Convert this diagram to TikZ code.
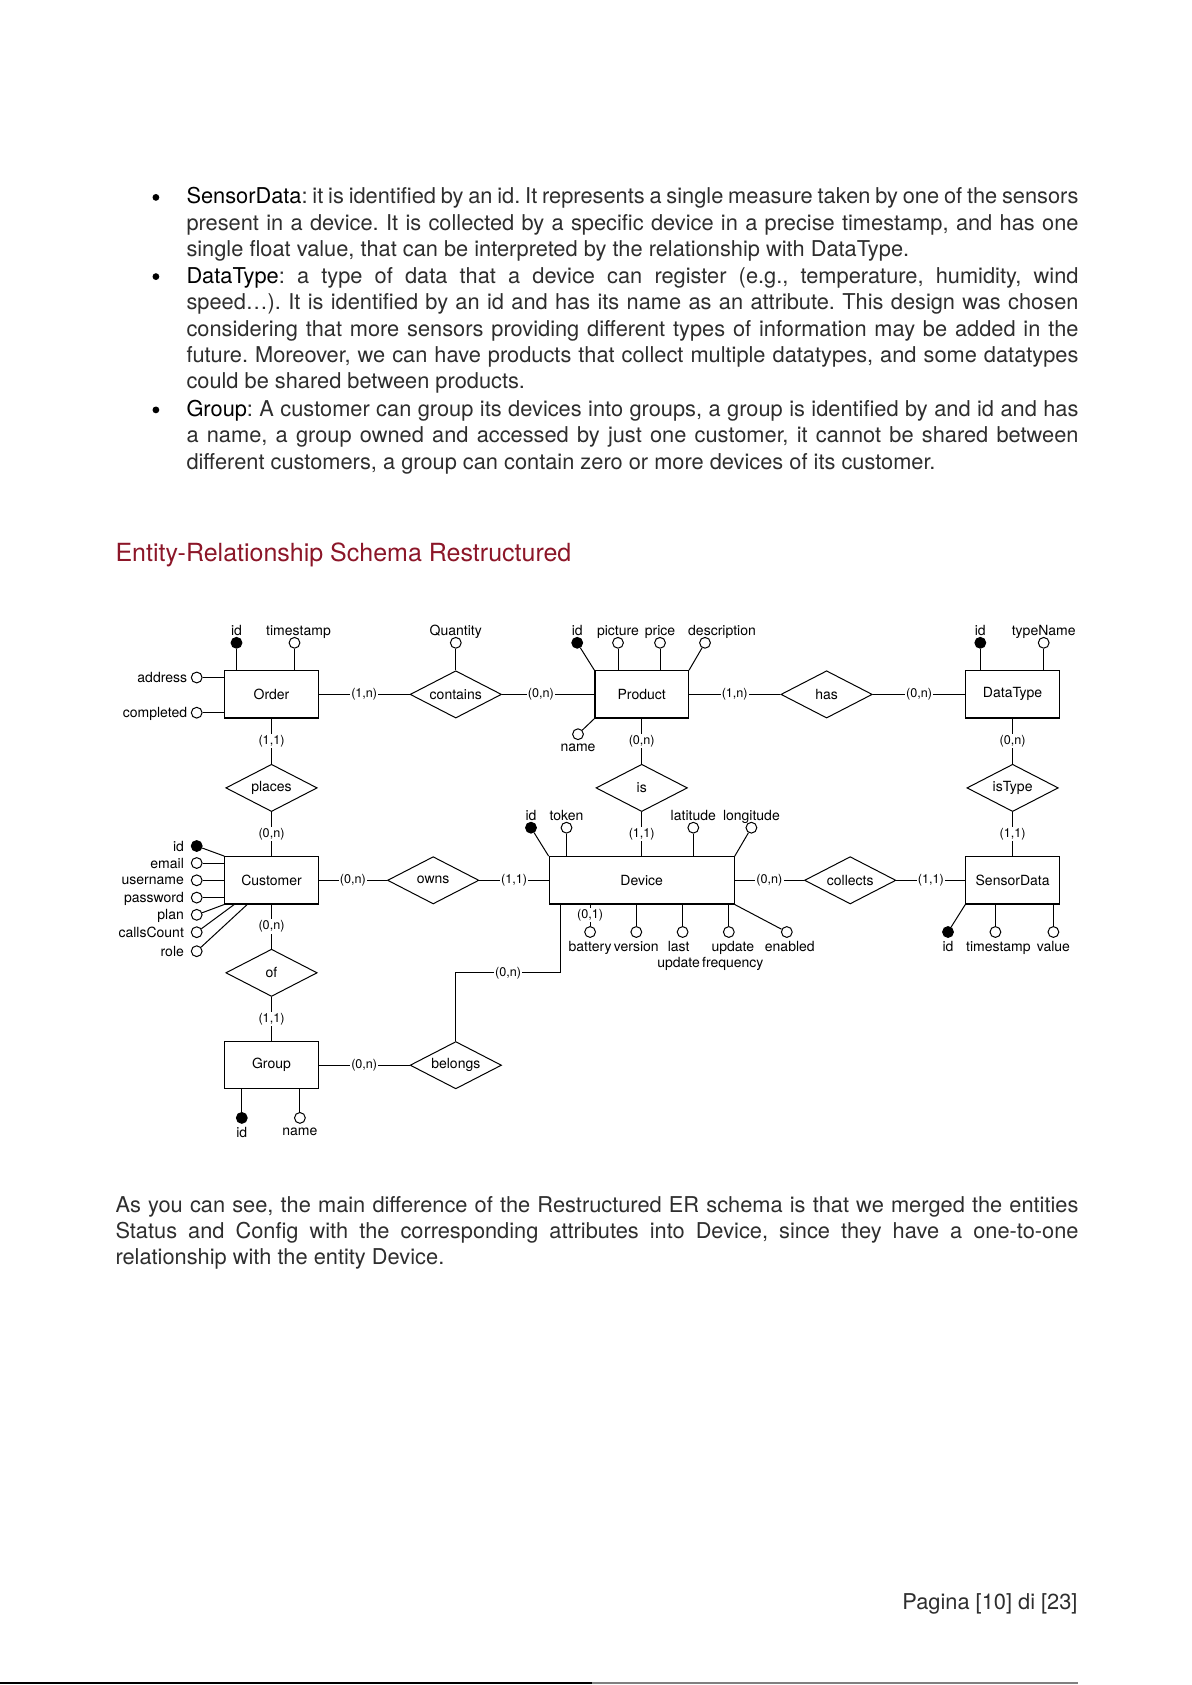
\documentclass[tikz,border=0pt]{standalone}
\usepackage{fontspec}
\setmainfont{TeX Gyre Heros}
\usepackage{xcolor}
\usetikzlibrary{shapes.geometric}
\frenchspacing
\definecolor{headred}{RGB}{140,22,40}
\tikzset{
  erent/.style={draw, rectangle, line width=0.6pt, minimum width=46.75pt, minimum height=23.65pt, inner sep=0pt},
  errel/.style={draw, diamond, aspect=2, line width=0.5pt, minimum width=45.7pt, minimum height=23.65pt, inner sep=0pt},
  erattr/.style={circle, draw, fill=white, inner sep=0pt, minimum size=5.4pt, line width=0.5pt},
  erkey/.style={erattr, fill=black},
  card/.style={fill=white, inner sep=0.6pt, font=\fontsize{6.3}{7}\selectfont},
  uplab/.style={label distance=-1pt},
  sidelab/.style={label distance=1.6pt},
}

\begin{document}
\begin{tikzpicture}[
  x=0.5pt, y=-0.5pt,
  font=\fontsize{7}{8}\selectfont,
  line width=0.5pt,
  every label/.style={font=\fontsize{7}{8}\selectfont, inner sep=1.6pt, text depth=0pt},
  body/.style={font=\fontsize{10.9}{13.2}\selectfont, text=black!82, text width=446pt, align=justify, inner sep=0pt, anchor=base west},
  dot/.style={circle, fill=black, inner sep=0pt, minimum size=3.4pt},
  heading/.style={font=\fontsize{12.5}{15}\selectfont, text=headred, inner sep=0pt, anchor=base west},
]
  \useasboundingbox (0,0) rectangle (1191,1685);

  % text above
  \node[dot] (dot1) at (155.9,197.4) {};
  \node[body] (sensortxt) at (186,204) {\textcolor{black}{SensorData}: it is identified by an id. It represents a single measure taken by one of the sensors\linebreak present in a device. It is collected by a specific device in a precise timestamp, and has one\linebreak single float value, that can be interpreted by the relationship with DataType.};
  \node[dot] (dot2) at (155.9,276.6) {};
  \node[body] (typetxt) at (186,283.2) {\textcolor{black}{DataType}: a type of data that a device can register (e.g., temperature, humidity, wind\linebreak speed…). It is identified by an id and has its name as an attribute. This design was chosen\linebreak considering that more sensors providing different types of information may be added in the\linebreak future. Moreover, we can have products that collect multiple datatypes, and some datatypes\linebreak could be shared between products.};
  \node[dot] (dot3) at (155.9,409.9) {};
  \node[body] (grouptxt) at (186,416.5) {\textcolor{black}{Group}: A customer can group its devices into groups, a group is identified by and id and has\linebreak a name, a group owned and accessed by just one customer, it cannot be shared between\linebreak different customers, a group can contain zero or more devices of its customer.};

  \node[heading] (title) at (115,561) {Entity-Relationship Schema Restructured};

  % entities
  \node[erent] (order)      at (271.5,694.4)  {Order};
  \node[erent] (product)    at (641.7,694.4)  {Product};
  \node[erent] (datatype)   at (1012.6,694.4) {DataType};
  \node[erent] (customer)   at (271.5,880.3)  {Customer};
  \node[erent, minimum width=92.5pt] (device) at (641.7,880.3) {Device};
  \node[erent] (sensordata) at (1012.6,880.3) {SensorData};
  \node[erent] (group)      at (271.5,1065.2) {Group};

  % relationships
  \node[errel] (contains) at (455.8,694.4)  {contains};
  \node[errel] (has)      at (826.6,694.4)  {has};
  \node[errel] (places)   at (271.5,787.9)  {places};
  \node[errel] (is)       at (641.7,787.9)  {is};
  \node[errel] (istype)   at (1012.6,787.9) {isType};
  \node[errel] (owns)     at (433.2,880.3)  {owns};
  \node[errel] (collects) at (850.2,880.3)  {collects};
  \node[errel] (of)       at (271.5,972.8)  {of};
  \node[errel] (belongs)  at (455.8,1065.2) {belongs};

  \draw (order) -- node[card]{(1,n)} (contains);
  \draw (contains) -- node[card, pos=0.42]{(0,n)} (product);
  \draw (product) -- node[card]{(1,n)} (has);
  \draw (has) -- node[card]{(0,n)} (datatype);
  \draw (order) -- node[card]{(1,1)} (places);
  \draw (places) -- node[card]{(0,n)} (customer);
  \draw (product) -- node[card]{(0,n)} (is);
  \draw (is) -- node[card]{(1,1)} (device);
  \draw (datatype) -- node[card]{(0,n)} (istype);
  \draw (istype) -- node[card]{(1,1)} (sensordata);
  \draw (customer) -- node[card]{(0,n)} (owns);
  \draw (owns) -- node[card]{(1,1)} (device);
  \draw (device) -- node[card]{(0,n)} (collects);
  \draw (collects) -- node[card]{(1,1)} (sensordata);
  \draw (customer) -- node[card]{(0,n)} (of);
  \draw (of) -- node[card]{(1,1)} (group);
  \draw (group) -- node[card]{(0,n)} (belongs);
  \coordinate (devbend) at ([xshift=5.9pt]device.south west);
  \draw (belongs.north) -- (belongs.north |- of) -- node[card]{(0,n)} (devbend |- of) -- (devbend);

  % Order attributes
  \node[erkey, label={[uplab]above:id}] (orderid) at (236.5,642.8) {};
  \node[erattr, label={[uplab, xshift=2pt]above:timestamp}] (orderts) at (294.5,642.8) {};
  \node[erattr, label=left:address] (orderaddr) at (196.7,677.5) {};
  \node[erattr, label=left:completed] (ordercompl) at (196.7,712.7) {};
  \draw (orderid) -- (orderid |- order.north);
  \draw (orderts) -- (orderts |- order.north);
  \draw (orderaddr) -- (orderaddr -| order.west);
  \draw (ordercompl) -- (ordercompl -| order.west);
  \node[erattr, label={[uplab]above:Quantity}] (qty) at (455.8,642.8) {};
  \draw (qty) -- (contains);

  % Product attributes
  \node[erkey, label={[uplab]above:id}] (prodid) at (577.2,642.8) {};
  \node[erattr, label={[uplab]above:picture}] (prodpic) at (618,642.8) {};
  \node[erattr, label={[uplab]above:price}] (prodprice) at (660,642.8) {};
  \node[erattr, label={[uplab, xshift=8.5pt]above:description}] (proddesc) at (705,642.8) {};
  \node[erattr, label=below:name] (prodname) at (578,734.2) {};
  \draw (prodid) -- (product.north west);
  \draw (prodpic) -- (prodpic |- product.north);
  \draw (prodprice) -- (prodprice |- product.north);
  \draw (proddesc) -- (product.north east);
  \draw (prodname) -- (product.south west);

  % DataType attributes
  \node[erkey, label={[uplab]above:id}] (dtid) at (980.3,642.8) {};
  \node[erattr, label={[uplab]above:typeName}] (dtname) at (1043.7,642.8) {};
  \draw (dtid) -- (dtid |- datatype.north);
  \draw (dtname) -- (dtname |- datatype.north);

  % Customer attributes
  \node[erkey, label={[sidelab]left:id}] (custid) at (196.7,846) {};
  \node[erattr, label={[sidelab]left:email}] (custmail) at (196.7,863) {};
  \node[erattr, label={[sidelab]left:username}] (custuser) at (196.7,880.3) {};
  \node[erattr, label={[sidelab]left:password}] (custpass) at (196.7,897.6) {};
  \node[erattr, label={[sidelab]left:plan}] (custplan) at (196.7,914.8) {};
  \node[erattr, label={[sidelab]left:callsCount}] (custcalls) at (196.7,932.2) {};
  \node[erattr, label={[sidelab]left:role}] (custrole) at (196.7,951.2) {};
  \draw (custid) -- (customer.north west);
  \draw (custmail) -- (custmail -| customer.west);
  \draw (custuser) -- (custuser -| customer.west);
  \draw (custpass) -- (custpass -| customer.west);
  \draw (custplan) -- (customer.south west);
  \draw (custcalls) -- ([xshift=5pt]customer.south west);
  \draw (custrole) -- ([xshift=11.5pt]customer.south west);

  % Device attributes
  \node[erkey, label={[uplab]above:id}] (devid) at (531,827.7) {};
  \node[erattr, label={[uplab]above:token}] (devtoken) at (566.5,827.7) {};
  \node[erattr, label={[uplab]above:latitude}] (devlat) at (693.3,827.7) {};
  \node[erattr, label={[uplab]above:longitude}] (devlong) at (751.4,827.7) {};
  \draw (devid) -- (device.north west);
  \draw (devtoken) -- (devtoken |- device.north);
  \draw (devlat) -- (devlat |- device.north);
  \draw (devlong) -- (device.north east);
  \node[erattr, label=below:battery] (devbatt) at (590.1,932) {};
  \node[erattr, label=below:version] (devver) at (636.3,932) {};
  \node[erattr, label={[align=center, xshift=-2pt]below:last\\update}] (devlast) at (682.6,932) {};
  \node[erattr, label={[align=center, xshift=2pt]below:update\\frequency}] (devfreq) at (728.8,932) {};
  \node[erattr, label={[xshift=1.5pt]below:enabled}] (devenab) at (786.8,932) {};
  \draw (devbatt |- device.south) -- node[card]{(0,1)} (devbatt);
  \draw (devver) -- (devver |- device.south);
  \draw (devlast) -- (devlast |- device.south);
  \draw (devfreq) -- (devfreq |- device.south);
  \draw (devenab) -- (device.south east);

  % SensorData attributes
  \node[erkey, label=below:id] (sdid) at (948,932) {};
  \node[erattr, label={[xshift=1.5pt]below:timestamp}] (sdts) at (995.4,932) {};
  \node[erattr, label=below:value] (sdval) at (1053.4,932) {};
  \draw (sdid) -- (sensordata.south west);
  \draw (sdts) -- (sdts |- sensordata.south);
  \draw (sdval) -- (sdval |- sensordata.south);

  % Group attributes
  \node[erkey, label=below:id] (grpid) at (241.8,1117.9) {};
  \node[erattr, label=below:name] (grpname) at (299.9,1117.9) {};
  \draw (grpid) -- (grpid |- group.south);
  \draw (grpname) -- (grpname |- group.south);

  % text below
  \node[body, text width=481.5pt] (mergetxt) at (115,1212) {As you can see, the main difference of the Restructured ER schema is that we merged the entities\linebreak Status and Config with the corresponding attributes into Device, since they have a one-to-one\linebreak relationship with the entity Device.};
  \node[font=\fontsize{10.9}{13.2}\selectfont, text=black!82, inner sep=0pt, anchor=base east] (pagenum) at (1078,1609) {Pagina [10] di [23]};

  \draw[line width=1pt] (0,1683) -- (592,1683);
  \draw[line width=1pt, gray] (592,1683) -- (1078,1683);
\end{tikzpicture}
\end{document}
